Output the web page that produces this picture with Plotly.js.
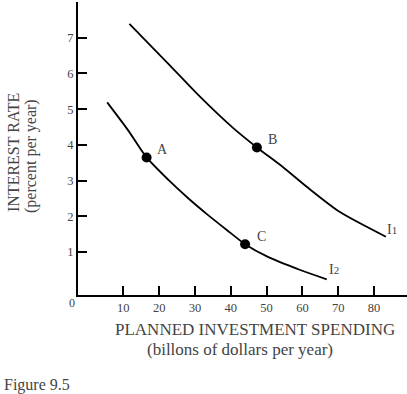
<!DOCTYPE html>
<html>
<head>
<meta charset="utf-8">
<script src="https://cdn.plot.ly/plotly-3.0.1.min.js"></script>
<style>html,body{margin:0;padding:0;background:#fff;}#chart{width:407px;height:394px;}</style>
</head>
<body>
<div id="chart"></div>
<script>
// Curve I1
const i1X = [11.7, 22.1, 31.4, 40.7, 47.3, 54.7, 61.2, 70.5, 83.3];
const i1Y = [7.39, 6.32, 5.35, 4.47, 3.93, 3.37, 2.83, 2.12, 1.43];
// Curve I2
const i2X = [5.5, 11.4, 16.5, 22.6, 28.2, 33.5, 38.9, 44.0, 50.1, 59.4, 66.8];
const i2Y = [5.19, 4.40, 3.65, 3.02, 2.50, 2.05, 1.62, 1.22, 0.88, 0.50, 0.24];
// Labelled points
const ptNames = ["A", "B", "C"];
const ptX = [16.5, 47.3, 44.0];
const ptY = [3.65, 3.93, 1.22];
// Ticks
const xTicks = [10, 20, 30, 40, 50, 60, 70, 80];
const yTicks = [1, 2, 3, 4, 5, 6, 7];
// Curve labels
const curveNames = ["I<span style='font-size:11px'>1</span>", "I<span style='font-size:11px'>2</span>"];
const curveLabelX = [84.9, 68.7];
const curveLabelY = [1.64, 0.51];

const serif = "Liberation Serif, Times New Roman, serif";
const grey = "#444";

const traces = [
  {x: i1X, y: i1Y, mode: "lines", line: {color: "#000", width: 1.8, shape: "spline", smoothing: 0.7}, hoverinfo: "skip"},
  {x: i2X, y: i2Y, mode: "lines", line: {color: "#000", width: 1.8, shape: "spline", smoothing: 0.7}, hoverinfo: "skip"},
  {x: ptX, y: ptY, mode: "markers", marker: {color: "#000", size: 10}, hoverinfo: "skip"}
];

const annotations = [];
ptNames.forEach((n, i) => {
  annotations.push({x: ptX[i], y: ptY[i], xref: "x", yref: "y", text: n, showarrow: false,
    xshift: 16, yshift: 8, font: {family: serif, size: 14, color: grey}});
});
curveNames.forEach((n, i) => {
  annotations.push({x: curveLabelX[i], y: curveLabelY[i], xref: "x", yref: "y", text: n, showarrow: false,
    font: {family: serif, size: 14, color: grey}});
});
const pix = [];
pix.push({x: 72, y: 303, text: "0", size: 12});
pix.push({x: 13, y: 153, text: "INTEREST RATE", angle: -90, size: 16});
pix.push({x: 31, y: 156, text: "(percent per year)", angle: -90, size: 16});
pix.push({x: 255, y: 329, text: "PLANNED INVESTMENT SPENDING", size: 17});
pix.push({x: 240, y: 349, text: "(billons of dollars per year)", size: 17});
pix.push({x: 37, y: 385, text: "Figure 9.5", size: 16});

const W = 407, H = 394, L = 78, R = 0, T = 2, B = 99;
pix.forEach(p => {
  annotations.push({xref: "paper", yref: "paper",
    x: (p.x - L) / (W - L - R), y: (H - B - p.y) / (H - T - B),
    xanchor: "center", yanchor: "middle", text: p.text, textangle: p.angle || 0,
    showarrow: false, font: {family: serif, size: p.size, color: grey}});
});

const layout = {
  width: W, height: H,
  margin: {l: L, r: R, t: T, b: B},
  paper_bgcolor: "#fff", plot_bgcolor: "#fff",
  showlegend: false,
  xaxis: {range: [-2.65, 89.2], tickvals: xTicks, ticks: "inside", ticklen: 9, tickwidth: 2, tickcolor: "#000",
    showline: true, linecolor: "#000", linewidth: 2, showgrid: false, zeroline: false,
    tickfont: {family: serif, size: 12.5, color: grey}},
  yaxis: {range: [-0.2, 8.0], tickvals: yTicks, ticks: "inside", ticklen: 9, tickwidth: 2, tickcolor: "#000",
    showline: true, linecolor: "#000", linewidth: 2, showgrid: false, zeroline: false,
    tickfont: {family: serif, size: 12.5, color: grey}},
  annotations: annotations
};

Plotly.newPlot("chart", traces, layout, {displayModeBar: false, staticPlot: true});
</script>
</body>
</html>
